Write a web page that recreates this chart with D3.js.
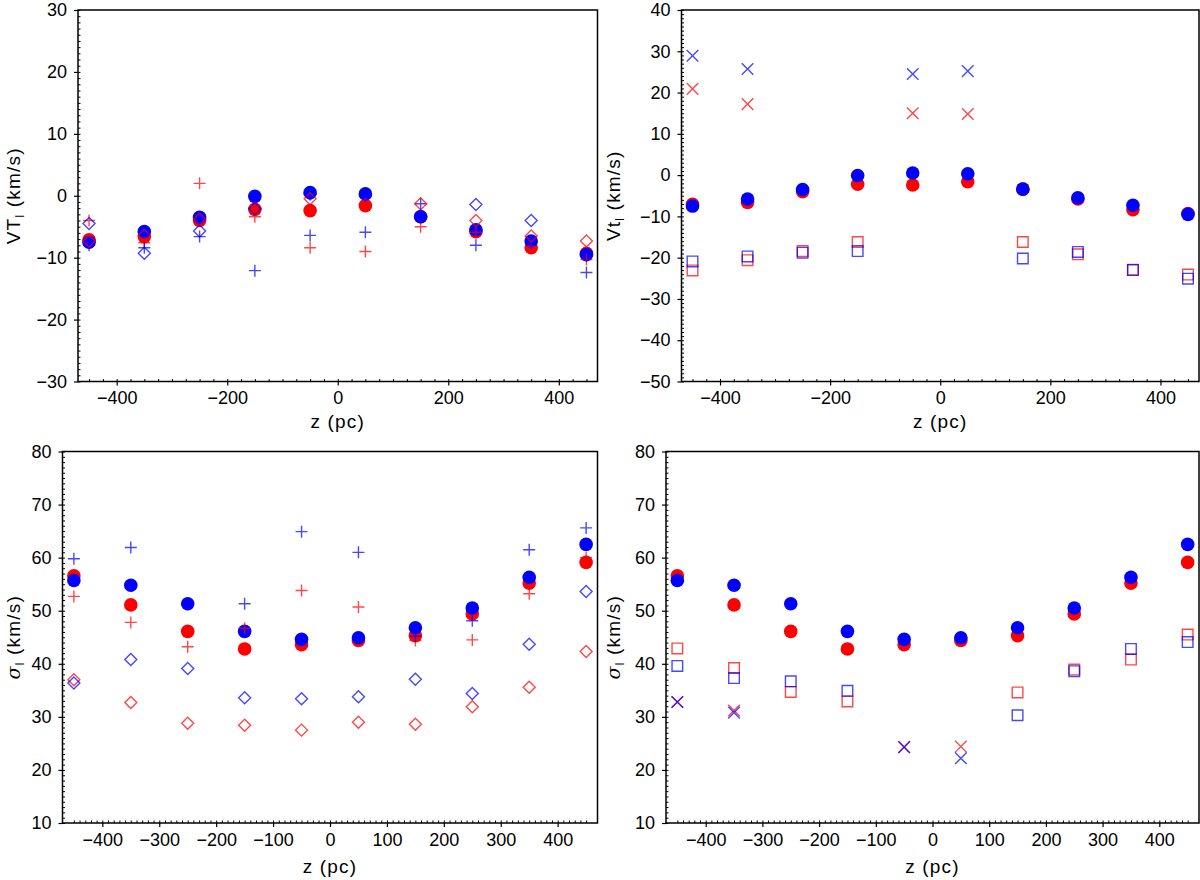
<!DOCTYPE html>
<html>
<head>
<meta charset="utf-8">
<script src="https://cdn.jsdelivr.net/npm/d3@7"></script>
<style>
  body { margin: 0; background: #fff; }
  svg text { font-family: "Liberation Sans", Arial, sans-serif; }
</style>
</head>
<body>
<div id="chart"></div>
<script>
// Data ////////////////////////////////////////////////
const zBins = [-450, -350, -250, -150, -50, 50, 150, 250, 350, 450];
const crossZ = [-450, -350, -50, 50];
const squareZ = [-450, -350, -250, -150, 150, 250, 350, 450];

// top panels: velocities (km/s)
const vMeanRed = [-7.1, -6.6, -4.0, -2.2, -2.4, -1.6, -3.4, -5.8, -8.4, -9.3];
const vMeanBlue = [-7.5, -5.8, -3.5, -0.1, 0.5, 0.3, -3.4, -5.5, -7.3, -9.5];
const vPlusRed = [-4.0, -7.6, 2.0, -3.4, -8.4, -9.0, -5.0, -5.9, -8.2, -10.3];
const vPlusBlue = [-8.0, -8.4, -6.6, -12.1, -6.4, -5.9, -1.3, -8.0, -7.6, -12.4];
const vDiamondRed = [-7.3, -6.4, -3.8, -2.0, -0.5, -1.4, -1.3, -4.0, -6.5, -7.3];
const vDiamondBlue = [-4.5, -9.3, -5.7, -2.1, 0.3, 0.1, -3.3, -1.4, -4.0, -9.6];
const vCrossRed = [20.9, 17.2, 15.0, 14.8];
const vCrossBlue = [28.9, 25.7, 24.5, 25.2];
const vSquareRed = [-23.1, -20.6, -18.4, -16.2, -16.2, -19.2, -22.9, -24.1];
const vSquareBlue = [-20.9, -19.7, -18.8, -18.4, -20.2, -18.6, -23.0, -25.1];

// bottom panels: dispersions (km/s)
const sMeanRed = [56.6, 51.1, 46.1, 42.8, 43.6, 44.4, 45.3, 49.4, 55.2, 59.1];
const sMeanBlue = [55.7, 54.8, 51.3, 46.1, 44.6, 44.9, 46.8, 50.5, 56.3, 62.5];
const sPlusRed = [52.7, 47.8, 43.2, 46.7, 53.8, 50.7, 44.4, 44.5, 53.2, 60.0];
const sPlusBlue = [59.8, 61.9, 51.2, 51.3, 64.9, 61.0, 45.2, 48.1, 61.5, 65.6];
const sDiamondRed = [37.0, 32.7, 28.8, 28.4, 27.5, 29.0, 28.6, 31.9, 35.6, 42.3];
const sDiamondBlue = [36.4, 40.8, 39.1, 33.6, 33.4, 33.8, 37.1, 34.4, 43.7, 53.6];
const sSquareRed = [42.9, 39.2, 34.7, 32.9, 34.6, 38.9, 40.8, 45.5];
const sSquareBlue = [39.6, 37.3, 36.7, 34.9, 30.3, 38.6, 42.8, 44.1];
const sCrossRed = [32.8, 31.2, 24.3, 24.4];
const sCrossBlue = [32.8, 30.8, 24.3, 22.2];

const topXTicks = [-400, -200, 0, 200, 400];
const bottomXTicks = [-400, -300, -200, -100, 0, 100, 200, 300, 400];

const RED = "#ff0000";
const BLUE = "#0000ff";

const zip = (xs, ys) => xs.map((x, i) => [x, ys[i]]);

// Panels ////////////////////////////////////////////
const panels = [
  {
    box: { left: 78, right: 597.5, top: 10, bottom: 381.5 },
    yDomain: [-30, 30], yStep: 10, xTicks: topXTicks, xMinor: 25,
    labelX: 14, label: ["VT", "l"], italic: false, xLabelDy: 46,
    series: [
      { type: "circle", color: RED, pts: zip(zBins, vMeanRed) },
      { type: "circle", color: BLUE, pts: zip(zBins, vMeanBlue) },
      { type: "plus", color: RED, pts: zip(zBins, vPlusRed) },
      { type: "plus", color: BLUE, pts: zip(zBins, vPlusBlue) },
      { type: "diamond", color: RED, pts: zip(zBins, vDiamondRed) },
      { type: "diamond", color: BLUE, pts: zip(zBins, vDiamondBlue) }
    ]
  },
  {
    box: { left: 681.5, right: 1199, top: 10, bottom: 381.5 },
    yDomain: [-50, 40], yStep: 10, xTicks: topXTicks, xMinor: 25,
    labelX: 614, label: ["Vt", "l"], italic: false, xLabelDy: 46,
    series: [
      { type: "circle", color: RED, pts: zip(zBins, vMeanRed) },
      { type: "circle", color: BLUE, pts: zip(zBins, vMeanBlue) },
      { type: "cross", color: RED, pts: zip(crossZ, vCrossRed) },
      { type: "cross", color: BLUE, pts: zip(crossZ, vCrossBlue) },
      { type: "square", color: RED, pts: zip(squareZ, vSquareRed) },
      { type: "square", color: BLUE, pts: zip(squareZ, vSquareBlue) }
    ]
  },
  {
    box: { left: 62.5, right: 597.5, top: 451.5, bottom: 823 },
    yDomain: [10, 80], yStep: 10, xTicks: bottomXTicks, xMinor: 10,
    labelX: 14, label: ["σ", "l"], italic: true, xLabelDy: 50,
    series: [
      { type: "circle", color: RED, pts: zip(zBins, sMeanRed) },
      { type: "circle", color: BLUE, pts: zip(zBins, sMeanBlue) },
      { type: "plus", color: RED, pts: zip(zBins, sPlusRed) },
      { type: "plus", color: BLUE, pts: zip(zBins, sPlusBlue) },
      { type: "diamond", color: RED, pts: zip(zBins, sDiamondRed) },
      { type: "diamond", color: BLUE, pts: zip(zBins, sDiamondBlue) }
    ]
  },
  {
    box: { left: 666, right: 1199, top: 451.5, bottom: 823 },
    yDomain: [10, 80], yStep: 10, xTicks: bottomXTicks, xMinor: 10,
    labelX: 614, label: ["σ", "l"], italic: true, xLabelDy: 50,
    series: [
      { type: "circle", color: RED, pts: zip(zBins, sMeanRed) },
      { type: "circle", color: BLUE, pts: zip(zBins, sMeanBlue) },
      { type: "square", color: RED, pts: zip(squareZ, sSquareRed) },
      { type: "square", color: BLUE, pts: zip(squareZ, sSquareBlue) },
      { type: "cross", color: RED, pts: zip(crossZ, sCrossRed) },
      { type: "cross", color: BLUE, pts: zip(crossZ, sCrossBlue) }
    ]
  }
];

// marker outlines, centred on 0,0
const markerPath = type => {
  if (type === "plus") return "M-6,0H6M0,-6V6";
  if (type === "cross") return "M-5.8,-5.8L5.8,5.8M-5.8,5.8L5.8,-5.8";
  if (type === "diamond") return "M0,-6L6,0L0,6L-6,0Z";
  if (type === "square") return "M-5.3,-5.3H5.3V5.3H-5.3Z";
  return "";
};

// Draw ////////////////////////////////////////////////
const svg = d3.select("#chart").append("svg")
  .attr("width", 1200).attr("height", 880);
svg.append("rect").attr("width", 1200).attr("height", 880).attr("fill", "#fff");

panels.forEach(p => {
  const b = p.box;
  const x = d3.scaleLinear().domain([-470, 470]).range([b.left, b.right]);
  const y = d3.scaleLinear().domain(p.yDomain).range([b.bottom, b.top]);
  const g = svg.append("g");

  // minor ticks (inside)
  g.append("g")
    .attr("transform", `translate(${b.left},0)`)
    .call(d3.axisLeft(y).tickValues(d3.range(p.yDomain[0], p.yDomain[1] + 0.5, 1))
      .tickSize(-2.5).tickFormat(""))
    .call(a => a.select(".domain").remove());
  g.append("g")
    .attr("transform", `translate(0,${b.bottom})`)
    .call(d3.axisBottom(x).tickValues(d3.range(-450, 451, p.xMinor))
      .tickSize(-2.5).tickFormat(""))
    .call(a => a.select(".domain").remove());

  // major ticks (outside)
  const yAxis = g.append("g")
    .attr("transform", `translate(${b.left},0)`)
    .call(d3.axisLeft(y).tickValues(d3.range(p.yDomain[0], p.yDomain[1] + 0.5, p.yStep))
      .tickSize(4).tickPadding(7));
  const xAxis = g.append("g")
    .attr("transform", `translate(0,${b.bottom})`)
    .call(d3.axisBottom(x).tickValues(p.xTicks).tickSize(4).tickPadding(6));
  [yAxis, xAxis].forEach(a => {
    a.select(".domain").remove();
    a.selectAll("line").attr("stroke-width", 1.2);
    a.selectAll("text").attr("fill", "#000")
      .style("font-family", '"Liberation Sans", Arial, sans-serif')
      .style("font-size", "18px");
  });
  g.selectAll("line").attr("stroke", "#000");

  // markers
  p.series.forEach(s => {
    if (s.type === "circle") {
      g.append("g").selectAll("circle").data(s.pts).join("circle")
        .attr("cx", d => x(d[0])).attr("cy", d => y(d[1]))
        .attr("r", 6.8).attr("fill", s.color);
    } else {
      g.append("g").selectAll("path").data(s.pts).join("path")
        .attr("transform", d => `translate(${x(d[0])},${y(d[1])})`)
        .attr("d", markerPath(s.type))
        .attr("fill", "none").attr("stroke", s.color)
        .attr("stroke-width", 1.4).attr("stroke-opacity", 0.72);
    }
  });

  // frame
  g.append("rect")
    .attr("x", b.left).attr("y", b.top)
    .attr("width", b.right - b.left).attr("height", b.bottom - b.top)
    .attr("fill", "none").attr("stroke", "#000").attr("stroke-width", 1.5);

  // axis labels
  g.append("text")
    .attr("x", (b.left + b.right) / 2).attr("y", b.bottom + p.xLabelDy)
    .attr("text-anchor", "middle").style("font-size", "19px")
    .style("letter-spacing", "1.2px")
    .text("z (pc)");

  const cy = (b.top + b.bottom) / 2;
  const yl = g.append("text")
    .attr("transform", `translate(${p.labelX + 6},${cy}) rotate(-90)`)
    .attr("text-anchor", "middle").style("font-size", "19px")
    .style("letter-spacing", "1.2px");
  yl.append("tspan").text(p.label[0])
    .style("font-style", p.italic ? "italic" : "normal")
    .style("font-family", p.italic ? '"DejaVu Serif", serif' : null);
  yl.append("tspan").attr("dy", 4).style("font-size", "12px").text(p.label[1]);
  yl.append("tspan").attr("dy", -4).text(" (km/s)");
});
</script>
</body>
</html>
